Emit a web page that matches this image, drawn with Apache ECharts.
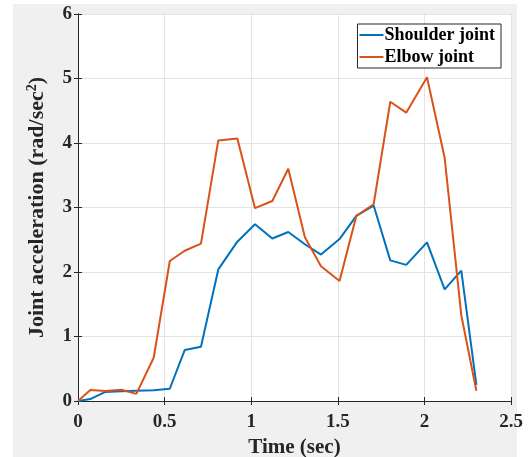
<!DOCTYPE html>
<html>
<head>
<meta charset="utf-8">
<script src="https://cdn.jsdelivr.net/npm/echarts@6/dist/echarts.min.js"></script>
<style>
    html, body { margin: 0; padding: 0; background: #fff; }
    #bg { position: absolute; left: 13px; top: 4px; width: 504px; height: 453px; background: #f0f0f0; }
    #chart { position: absolute; left: 0; top: 0; width: 529px; height: 457px; }
</style>
</head>
<body>
<div id="bg"></div>
<div id="chart"></div>
<script>
// time stamps (sec)
const time = [0, 0.071, 0.158, 0.25, 0.337, 0.437, 0.53, 0.616, 0.71, 0.81, 0.92, 1.022,
    1.122, 1.214, 1.31, 1.403, 1.51, 1.607, 1.707, 1.803, 1.895, 2.015, 2.117, 2.213, 2.30];
const shoulder = [0, 0.03, 0.14, 0.15, 0.16, 0.165, 0.19, 0.79, 0.84, 2.04, 2.47, 2.74,
    2.52, 2.62, 2.43, 2.27, 2.51, 2.87, 3.03, 2.18, 2.11, 2.46, 1.73, 2.02, 0.25];
const elbow = [0, 0.17, 0.155, 0.175, 0.11, 0.67, 2.17, 2.33, 2.44, 4.04, 4.07, 2.99,
    3.10, 3.60, 2.54, 2.09, 1.86, 2.87, 3.05, 4.64, 4.47, 5.02, 3.77, 1.33, 0.16];
const xTicks = ['0', '0.5', '1', '1.5', '2', '2.5'];
const yTicks = ['0', '1', '2', '3', '4', '5', '6'];

const font = '"Liberation Serif", "Times New Roman", serif';
const axisColor = '#262626';

function pairs(xs, ys) {
    return xs.map((x, i) => [x, ys[i]]);
}

let chart = echarts.init(document.getElementById('chart'));
chart.setOption({
    animation: false,
    textStyle: { fontFamily: font },
    grid: {
        left: 78, top: 14, right: 18, bottom: 56,
        outerBoundsMode: 'none',
        show: true, backgroundColor: '#fff', borderWidth: 0
    },
    legend: {
        orient: 'vertical',
        right: 28, top: 24,
        padding: [2, 6, 2, 2],
        itemGap: 4,
        itemWidth: 24,
        itemHeight: 18,
        backgroundColor: '#fff',
        borderColor: '#262626',
        borderWidth: 1,
        borderRadius: 0,
        icon: 'path://M0,8 L24,8 L24,10 L0,10 Z',
        textStyle: { fontFamily: font, fontWeight: 'bold', fontSize: 18, color: '#000', padding: [0, 0, 0, -4] },
        data: ['Shoulder joint', 'Elbow joint']
    },
    xAxis: [{
        type: 'value', min: 0, max: 2.5, interval: 0.5,
        name: 'Time (sec)', nameLocation: 'middle', nameGap: 36,
        nameTextStyle: { fontFamily: font, fontWeight: 'bold', fontSize: 21, color: '#262626' },
        axisLine: { show: true, lineStyle: { color: axisColor } },
        axisTick: { show: true, inside: true, length: 4, lineStyle: { color: axisColor } },
        axisLabel: {
            margin: 12, fontFamily: font, fontWeight: 'bold', fontSize: 19, color: '#262626',
            formatter: (v) => xTicks[Math.round(v / 0.5)]
        },
        splitLine: { show: true, lineStyle: { color: '#e3e3e3' } }
    }, {
        type: 'value', min: 0, max: 2.5, interval: 0.5, position: 'top',
        axisLine: { show: true, lineStyle: { color: axisColor } },
        axisTick: { show: true, inside: true, length: 4, lineStyle: { color: axisColor } },
        axisLabel: { show: false }, splitLine: { show: false }
    }],
    yAxis: [{
        type: 'value', min: 0, max: 6, interval: 1,
        name: '{a|Joint acceleration (rad/sec}{s|2}{a|)}',
        nameLocation: 'middle', nameGap: 29,
        nameTextStyle: {
            rich: {
                a: { fontFamily: font, fontWeight: 'bold', fontSize: 22, color: '#262626' },
                s: { fontFamily: font, fontWeight: 'bold', fontSize: 14, color: '#262626', verticalAlign: 'top', padding: [0, 0, 10, 0] }
            }
        },
        axisLine: { show: true, lineStyle: { color: axisColor } },
        axisTick: { show: true, inside: true, length: 4, lineStyle: { color: axisColor } },
        axisLabel: {
            margin: 6, fontFamily: font, fontWeight: 'bold', fontSize: 19, color: '#262626',
            formatter: (v) => yTicks[Math.round(v)]
        },
        splitLine: { show: true, lineStyle: { color: '#e3e3e3' } }
    }, {
        type: 'value', min: 0, max: 6, interval: 1, position: 'right',
        axisLine: { show: true, lineStyle: { color: axisColor } },
        axisTick: { show: true, inside: true, length: 4, lineStyle: { color: axisColor } },
        axisLabel: { show: false }, splitLine: { show: false }
    }],
    series: [{
        name: 'Shoulder joint', type: 'line',
        data: pairs(time, shoulder),
        symbol: 'none', color: '#0072BD',
        lineStyle: { width: 2, color: '#0072BD' }
    }, {
        name: 'Elbow joint', type: 'line',
        data: pairs(time, elbow),
        symbol: 'none', color: '#D95319',
        lineStyle: { width: 2, color: '#D95319' }
    }]
});
</script>
</body>
</html>
